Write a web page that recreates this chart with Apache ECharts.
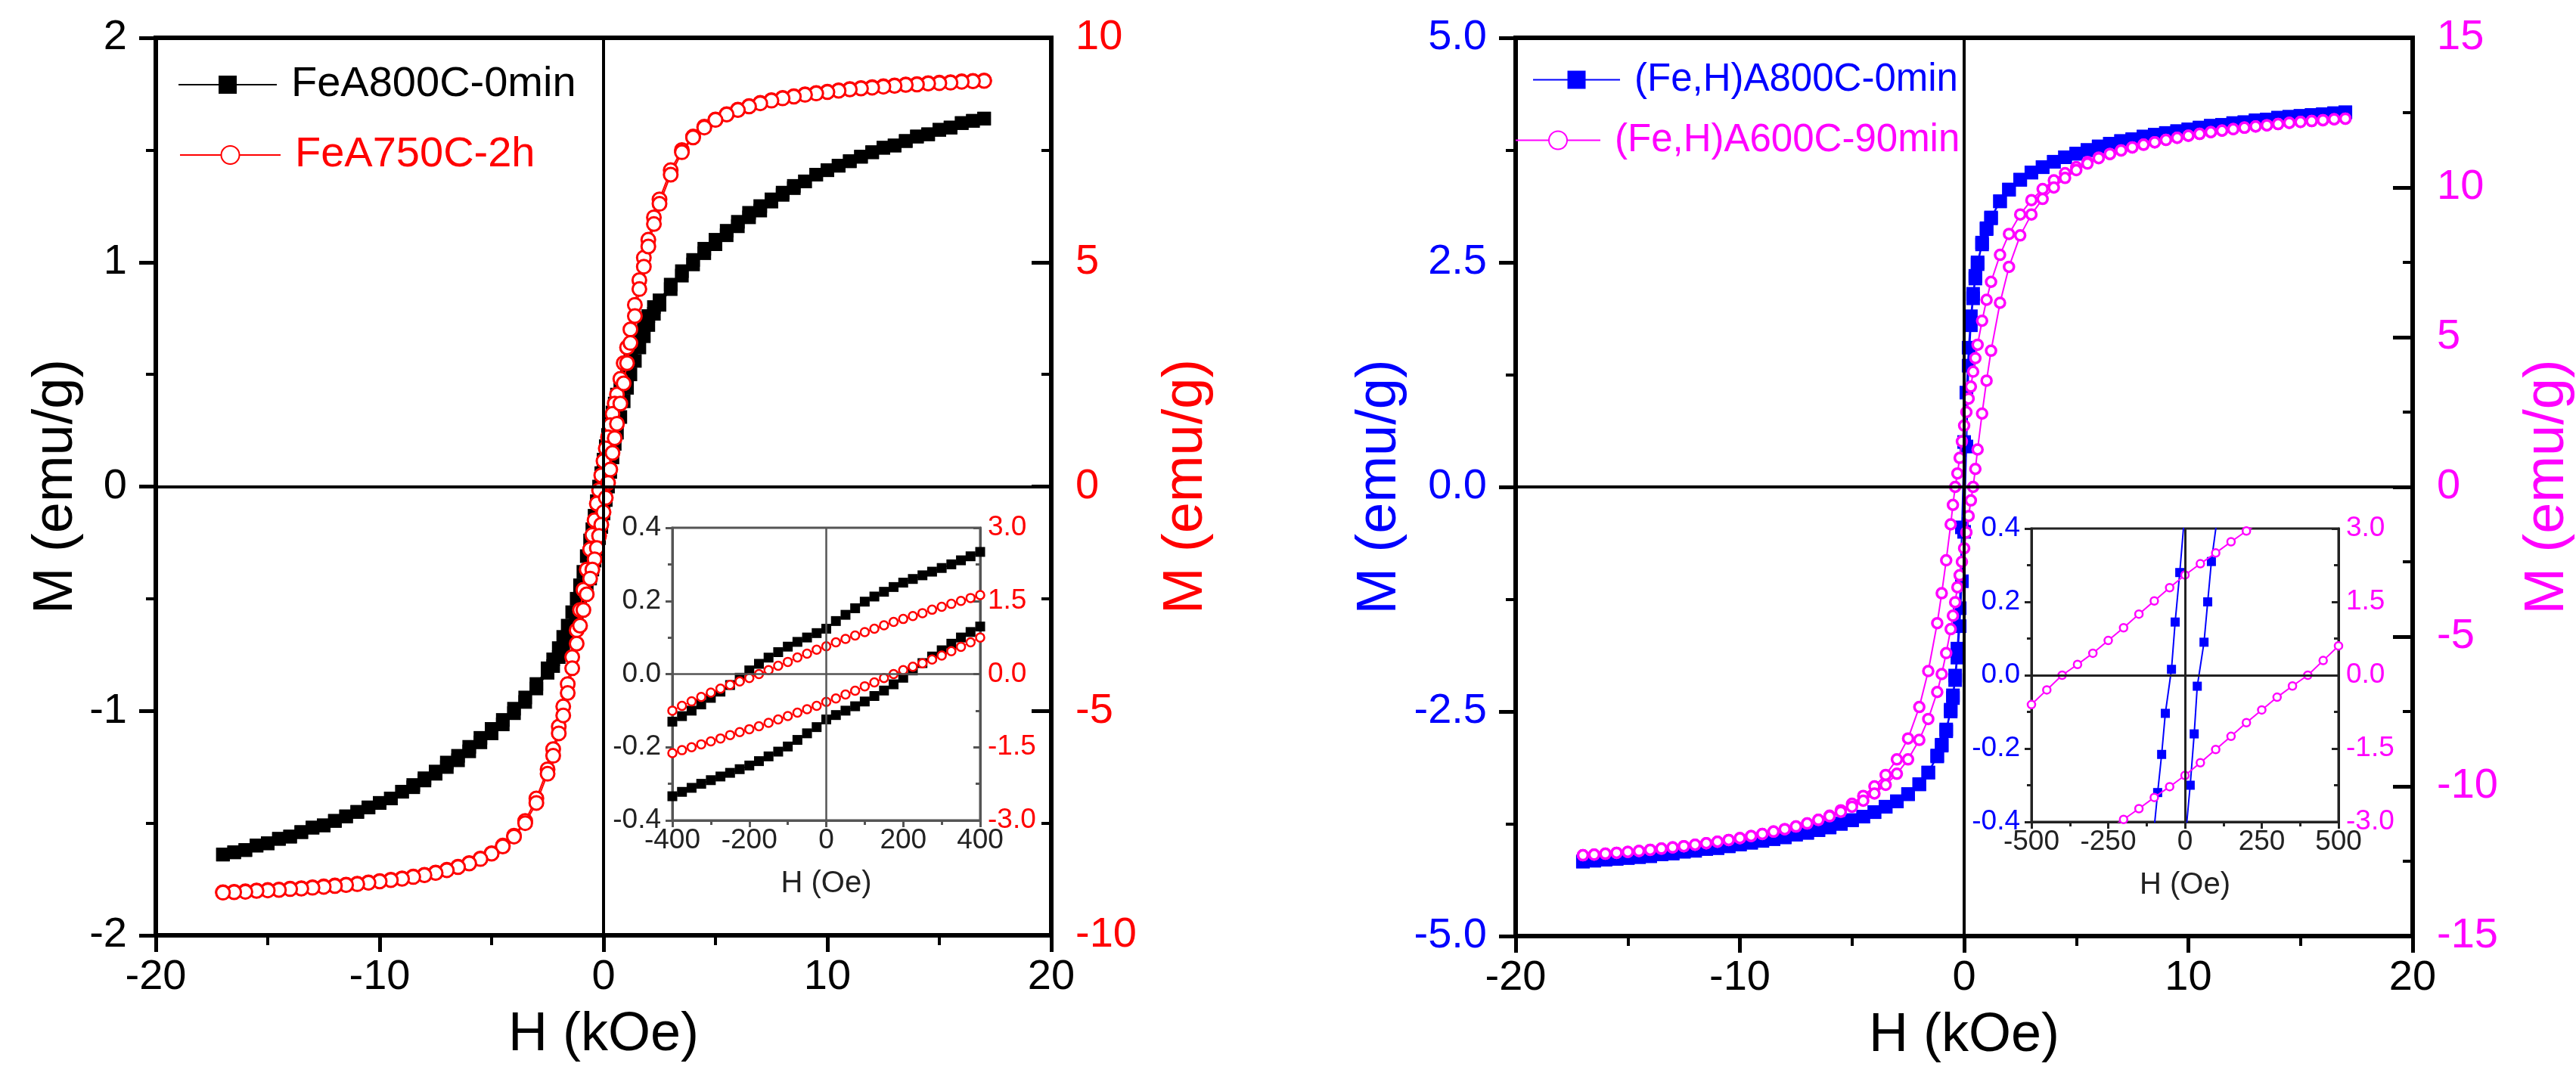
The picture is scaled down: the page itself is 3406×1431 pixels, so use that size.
<!DOCTYPE html>
<html><head><meta charset="utf-8">
<script src="https://cdn.jsdelivr.net/npm/echarts@6/dist/echarts.min.js"></script>
<style>html,body{margin:0;padding:0;background:#fff}#c{width:3406px;height:1431px}</style>
</head><body><div id="c"></div>
<script>
// ---------------- LEFT PANEL: main loop (H in kOe) ----------------
const LH = [17,16.5,16,15.5,15,14.5,14,13.5,13,12.5,12,11.5,11,10.5,10,9.5,9,8.5,8,7.5,7,6.5,6,5.5,5,4.5,4,3.5,3,
  2.5,2.25,2,1.8,1.6,1.4,1.2,1.05,0.9,0.75,0.6,0.5,0.4,0.3,0.2,0.1,0,-0.1,-0.2,-0.3,-0.4,-0.5,-0.6,-0.75,-0.9,-1.05,-1.2,-1.4,-1.6,-1.8,-2,-2.25,-2.5,
  -3,-3.5,-4,-4.5,-5,-5.5,-6,-6.5,-7,-7.5,-8,-8.5,-9,-9.5,-10,-10.5,-11,-11.5,-12,-12.5,-13,-13.5,-14,-14.5,-15,-15.5,-16,-16.5,-17];
// FeA800C-0min (left axis, emu/g) descending / ascending branch
const fe800Down = [1.64,1.63,1.62,1.60,1.59,1.57,1.56,1.54,1.52,1.51,1.49,1.47,1.45,1.43,1.41,1.39,1.36,1.34,1.31,1.28,1.25,1.22,1.18,1.14,1.10,1.06,1.01,0.96,0.90,
  0.83,0.80,0.76,0.72,0.68,0.63,0.58,0.53,0.48,0.445,0.41,0.37,0.33,0.28,0.23,0.18,0.12,0.06,0.00,-0.065,-0.13,-0.19,-0.24,-0.31,-0.38,-0.44,-0.50,-0.56,-0.62,-0.67,-0.72,-0.77,-0.81,
  -0.88,-0.94,-0.99,-1.04,-1.08,-1.12,-1.16,-1.20,-1.23,-1.27,-1.30,-1.33,-1.36,-1.39,-1.41,-1.43,-1.45,-1.47,-1.49,-1.51,-1.52,-1.54,-1.56,-1.57,-1.59,-1.60,-1.62,-1.63,-1.64];
const fe800Up = [1.64,1.63,1.62,1.60,1.59,1.57,1.56,1.54,1.52,1.51,1.49,1.47,1.45,1.43,1.41,1.39,1.36,1.33,1.30,1.27,1.23,1.20,1.16,1.12,1.08,1.04,0.99,0.94,0.88,
  0.81,0.77,0.72,0.67,0.62,0.56,0.50,0.44,0.38,0.31,0.24,0.19,0.13,0.065,0.00,-0.06,-0.12,-0.18,-0.23,-0.28,-0.33,-0.37,-0.41,-0.445,-0.48,-0.53,-0.58,-0.63,-0.68,-0.72,-0.76,-0.80,-0.83,
  -0.90,-0.96,-1.01,-1.06,-1.10,-1.14,-1.18,-1.22,-1.25,-1.28,-1.31,-1.34,-1.36,-1.39,-1.41,-1.43,-1.45,-1.47,-1.49,-1.51,-1.52,-1.54,-1.56,-1.57,-1.59,-1.60,-1.62,-1.63,-1.64];
// FeA750C-2h (right axis, emu/g)
const fe750Down = [9.05,9.04,9.03,9.01,9.00,8.99,8.97,8.96,8.94,8.92,8.90,8.88,8.86,8.83,8.80,8.77,8.74,8.70,8.66,8.61,8.55,8.48,8.40,8.30,8.18,8.02,7.80,7.50,7.05,
  6.40,6.00,5.50,5.10,4.60,4.05,3.50,3.10,2.75,2.40,2.05,1.85,1.62,1.37,1.10,0.85,0.57,0.25,-0.08,-0.38,-0.75,-1.08,-1.40,-1.85,-2.30,-2.75,-3.20,-3.80,-4.40,-4.90,-5.35,-5.85,-6.30,
  -6.95,-7.45,-7.78,-8.00,-8.17,-8.29,-8.39,-8.47,-8.54,-8.60,-8.65,-8.69,-8.73,-8.76,-8.79,-8.82,-8.85,-8.87,-8.89,-8.91,-8.93,-8.95,-8.96,-8.98,-8.99,-9.00,-9.02,-9.03,-9.04];
const fe750Up = [9.04,9.03,9.02,9.00,8.99,8.98,8.96,8.95,8.93,8.91,8.89,8.87,8.85,8.82,8.79,8.76,8.73,8.69,8.65,8.60,8.54,8.47,8.39,8.29,8.17,8.00,7.78,7.45,6.95,
  6.30,5.85,5.35,4.90,4.40,3.80,3.20,2.75,2.30,1.85,1.40,1.08,0.75,0.38,0.08,-0.25,-0.57,-0.85,-1.10,-1.37,-1.62,-1.85,-2.05,-2.40,-2.75,-3.10,-3.50,-4.05,-4.60,-5.10,-5.50,-6.00,-6.40,
  -7.05,-7.50,-7.80,-8.02,-8.18,-8.30,-8.40,-8.48,-8.55,-8.61,-8.66,-8.70,-8.74,-8.77,-8.80,-8.83,-8.86,-8.88,-8.90,-8.92,-8.94,-8.96,-8.97,-8.99,-9.00,-9.01,-9.03,-9.04,-9.05];

// ---------------- LEFT PANEL: inset (H in Oe) ----------------
const LIH = [-400,-375,-350,-325,-300,-275,-250,-225,-200,-175,-150,-125,-100,-75,-50,-25,0,25,50,75,100,125,150,175,200,225,250,275,300,325,350,375,400];
const fe800InUpper = [-0.130,-0.115,-0.100,-0.083,-0.065,-0.048,-0.030,-0.010,0.010,0.028,0.045,0.060,0.075,0.088,0.100,0.112,0.124,0.145,0.162,0.180,0.198,0.212,0.225,0.238,0.250,0.260,0.270,0.280,0.290,0.300,0.311,0.322,0.334];
const fe800InLower = [-0.334,-0.322,-0.311,-0.300,-0.290,-0.280,-0.270,-0.260,-0.250,-0.238,-0.225,-0.212,-0.198,-0.180,-0.162,-0.145,-0.124,-0.112,-0.100,-0.088,-0.075,-0.060,-0.045,-0.028,-0.010,0.010,0.030,0.048,0.065,0.083,0.100,0.115,0.130];
const fe750InUpper = [-0.75,-0.65,-0.56,-0.47,-0.38,-0.30,-0.22,-0.15,-0.08,0.00,0.08,0.17,0.25,0.34,0.42,0.50,0.57,0.65,0.72,0.79,0.86,0.93,1.00,1.07,1.13,1.19,1.25,1.32,1.38,1.44,1.50,1.56,1.62];
const fe750InLower = [-1.62,-1.56,-1.50,-1.44,-1.38,-1.32,-1.25,-1.19,-1.13,-1.07,-1.00,-0.93,-0.86,-0.79,-0.72,-0.65,-0.57,-0.50,-0.42,-0.34,-0.25,-0.17,-0.08,0.00,0.08,0.15,0.22,0.30,0.38,0.47,0.56,0.65,0.75];

// ---------------- RIGHT PANEL: main loop (H in kOe) ----------------
const RH = [17,16.5,16,15.5,15,14.5,14,13.5,13,12.5,12,11.5,11,10.5,10,9.5,9,8.5,8,7.5,7,6.5,6,5.5,5,4.5,4,3.5,3,
  2.5,2,1.6,1.2,1.0,0.8,0.6,0.5,0.4,0.3,0.2,0.1,0,-0.1,-0.2,-0.3,-0.4,-0.5,-0.6,-0.8,-1.0,-1.2,-1.6,-2,-2.5,
  -3,-3.5,-4,-4.5,-5,-5.5,-6,-6.5,-7,-7.5,-8,-8.5,-9,-9.5,-10,-10.5,-11,-11.5,-12,-12.5,-13,-13.5,-14,-14.5,-15,-15.5,-16,-16.5,-17];
const feh800Down = [4.17,4.16,4.15,4.14,4.13,4.12,4.11,4.09,4.08,4.06,4.05,4.03,4.02,4.00,3.98,3.96,3.94,3.92,3.90,3.87,3.85,3.82,3.79,3.75,3.71,3.67,3.62,3.56,3.50,
  3.42,3.31,3.18,3.00,2.88,2.72,2.50,2.35,2.15,1.90,1.55,1.05,0.50,-0.45,-1.35,-1.80,-2.10,-2.32,-2.48,-2.70,-2.87,-2.99,-3.18,-3.31,-3.42,
  -3.50,-3.56,-3.62,-3.67,-3.71,-3.75,-3.79,-3.82,-3.85,-3.87,-3.90,-3.92,-3.94,-3.96,-3.98,-4.00,-4.02,-4.03,-4.05,-4.06,-4.08,-4.09,-4.11,-4.12,-4.13,-4.14,-4.15,-4.16,-4.17];
const feh800Up = [4.17,4.16,4.15,4.14,4.13,4.12,4.11,4.09,4.08,4.06,4.05,4.03,4.02,4.00,3.98,3.96,3.94,3.92,3.90,3.87,3.85,3.82,3.79,3.75,3.71,3.67,3.62,3.56,3.50,
  3.42,3.31,3.18,2.99,2.87,2.70,2.48,2.32,2.10,1.80,1.35,0.45,-0.50,-1.05,-1.55,-1.90,-2.15,-2.35,-2.50,-2.72,-2.88,-3.00,-3.18,-3.31,-3.42,
  -3.50,-3.56,-3.62,-3.67,-3.71,-3.75,-3.79,-3.82,-3.85,-3.87,-3.90,-3.92,-3.94,-3.96,-3.98,-4.00,-4.02,-4.03,-4.05,-4.06,-4.08,-4.09,-4.11,-4.12,-4.13,-4.14,-4.15,-4.16,-4.17];
const feh600Down = [12.30,12.28,12.25,12.22,12.19,12.16,12.12,12.08,12.04,12.00,11.95,11.90,11.85,11.79,11.73,11.66,11.59,11.51,11.43,11.34,11.24,11.12,11.00,10.85,10.68,10.48,10.24,9.95,9.58,
  9.10,8.45,7.75,6.85,6.25,5.55,4.75,4.30,3.85,3.35,2.95,2.50,2.05,1.52,0.97,0.45,0.00,-0.60,-1.25,-2.45,-3.55,-4.55,-6.15,-7.35,-8.40,
  -9.10,-9.62,-10.00,-10.32,-10.58,-10.80,-10.98,-11.12,-11.24,-11.34,-11.43,-11.51,-11.59,-11.66,-11.73,-11.79,-11.85,-11.90,-11.95,-12.00,-12.04,-12.08,-12.12,-12.16,-12.19,-12.22,-12.25,-12.28,-12.30];
const feh600Up = [12.30,12.28,12.25,12.22,12.19,12.16,12.12,12.08,12.04,12.00,11.95,11.90,11.85,11.79,11.73,11.66,11.59,11.51,11.43,11.34,11.24,11.12,10.98,10.80,10.58,10.32,10.00,9.62,9.10,
  8.40,7.35,6.15,4.55,3.55,2.45,1.25,0.60,0.00,-0.45,-0.97,-1.52,-2.05,-2.50,-2.95,-3.35,-3.85,-4.30,-4.75,-5.55,-6.25,-6.85,-7.75,-8.45,-9.10,
  -9.58,-9.95,-10.24,-10.48,-10.68,-10.85,-11.00,-11.12,-11.24,-11.34,-11.43,-11.51,-11.59,-11.66,-11.73,-11.79,-11.85,-11.90,-11.95,-12.00,-12.04,-12.08,-12.12,-12.16,-12.19,-12.22,-12.25,-12.28,-12.30];

// ---------------- RIGHT PANEL: inset (H in Oe) ----------------
const fehInBlueDownH = [5,-17,-32,-44,-64,-76,-89,-110];
const fehInBlueDown  = [0.50,0.28,0.145,0.016,-0.104,-0.216,-0.32,-0.50];
const fehInBlueUpH   = [-5,17,30,40,62,74,86,110];
const fehInBlueUp    = [-0.50,-0.30,-0.16,-0.03,0.09,0.20,0.31,0.46];
const fehInMagUpperH = [-500,-450,-400,-350,-300,-250,-200,-150,-100,-50,0,50,100,150,200,250];
const fehInMagUpper  = [-0.60,-0.30,0.00,0.22,0.45,0.71,0.97,1.25,1.52,1.79,2.05,2.28,2.50,2.73,2.95,3.15];
const fehInMagLowerH = [-250,-200,-150,-100,-50,0,50,100,150,200,250,300,350,400,450,500];
const fehInMagLower  = [-3.15,-2.95,-2.73,-2.50,-2.28,-2.05,-1.79,-1.52,-1.25,-0.97,-0.71,-0.45,-0.22,0.00,0.30,0.60];

// ---------------- names / labels ----------------
const NAME_A = 'FeA800C-0min', NAME_B = 'FeA750C-2h';
const NAME_C = '(Fe,H)A800C-0min', NAME_D = '(Fe,H)A600C-90min';
const X_MAIN = 'H (kOe)', X_INSET = 'H (Oe)', Y_NAME = 'M (emu/g)';

const FF = '"Liberation Sans", Arial, Helvetica, sans-serif';
const RED = '#ff0000', BLUE = '#0000ff', MAG = '#ff00ff';

function pairs(h, v) { return h.map((x, i) => [x, v[i]]); }
function fix1(v) { return (Math.abs(v) < 1e-9 ? 0 : v).toFixed(1); }

function mainX(g) {
  return { gridIndex: g, type: 'value', min: -20, max: 20, interval: 10, position: 'bottom',
    axisLine: { onZero: false, lineStyle: { color: '#000', width: 6 } },
    axisTick: { length: 22, lineStyle: { color: '#000', width: 5 } },
    minorTick: { show: true, splitNumber: 2, length: 13, lineStyle: { color: '#000', width: 4 } },
    splitLine: { show: false },
    axisLabel: { color: '#000', fontSize: 56, margin: 28, fontFamily: FF },
    name: X_MAIN, nameLocation: 'middle', nameGap: 96,
    nameTextStyle: { color: '#000', fontSize: 72, fontFamily: FF } };
}
function insetX(g, lim, step, col) {
  return { gridIndex: g, type: 'value', min: -lim, max: lim, interval: step, position: 'bottom',
    axisLine: { onZero: false, lineStyle: { color: col, width: 3 } },
    axisTick: { length: 9, lineStyle: { color: col, width: 3 } },
    minorTick: { show: true, splitNumber: 2, length: 6, lineStyle: { color: col, width: 3 } },
    splitLine: { show: false },
    axisLabel: { color: '#222', fontSize: 37, margin: 8, fontFamily: FF },
    name: X_INSET, nameLocation: 'middle', nameGap: 64,
    nameTextStyle: { color: '#222', fontSize: 40, fontFamily: FF } };
}
function mainY(g, pos, min, max, step, col, gap, fmt) {
  const right = pos === 'right';
  return { gridIndex: g, type: 'value', position: pos, min, max, interval: step,
    axisLine: { onZero: false, lineStyle: { color: '#000', width: 6 } },
    axisTick: { inside: right, length: right ? 26 : 22, lineStyle: { color: '#000', width: 5 } },
    minorTick: { show: true, splitNumber: 2, length: 13, lineStyle: { color: '#000', width: 4 } },
    splitLine: { show: false },
    axisLabel: { color: col, fontSize: 56, margin: right ? 32 : 38, fontFamily: FF, formatter: fmt },
    name: Y_NAME, nameLocation: 'middle', nameGap: gap,
    nameTextStyle: { color: col, fontSize: 74, fontFamily: FF } };
}
function insetY(g, pos, lim, step, col, labCol) {
  const right = pos === 'right';
  return { gridIndex: g, type: 'value', position: pos, min: -lim, max: lim, interval: step,
    axisLine: { onZero: false, lineStyle: { color: col, width: 3 } },
    axisTick: { inside: right, length: 9, lineStyle: { color: col, width: 3 } },
    minorTick: { show: true, splitNumber: 2, length: 6, lineStyle: { color: col, width: 3 } },
    splitLine: { show: false },
    axisLabel: { color: labCol, fontSize: 37, margin: right ? 10 : 15, fontFamily: FF, formatter: fix1 } };
}
function zeroLines(col, w) {
  return { silent: true, symbol: 'none', label: { show: false }, animation: false,
    lineStyle: { color: col, width: w, type: 'solid' }, emphasis: { disabled: true },
    data: [{ xAxis: 0 }, { yAxis: 0 }] };
}
function sq(name, xi, yi, data, col, size, lw) {
  return { type: 'line', name, xAxisIndex: xi, yAxisIndex: yi, data, symbol: 'rect', symbolSize: size,
    itemStyle: { color: col }, lineStyle: { color: col, width: lw }, showAllSymbol: true, animation: false, z: 3 };
}
function circ(name, xi, yi, data, col, size, bw, lw) {
  return { type: 'line', name, xAxisIndex: xi, yAxisIndex: yi, data, symbol: 'circle', symbolSize: size,
    itemStyle: { color: '#fff', borderColor: col, borderWidth: bw }, lineStyle: { color: col, width: lw },
    showAllSymbol: true, animation: false, z: 4 };
}
function leg(name, left, top, col, fs, w) {
  return { data: [name], left, top, padding: 0, itemWidth: w, itemHeight: 30, selectedMode: false,
    textStyle: { color: col, fontSize: fs, fontFamily: FF, padding: [0, 0, 0, 14] } };
}

const s0 = sq(NAME_A, 0, 0, pairs(LH, fe800Down), '#000', 18, 2);
s0.markLine = zeroLines('#000', 4);
const s8 = sq(NAME_C, 2, 4, pairs(RH, feh800Down), BLUE, 18, 2);
s8.markLine = zeroLines('#000', 4);
const s4 = sq(NAME_A, 1, 2, pairs(LIH, fe800InUpper), '#000', 13, 1.5);
s4.markLine = zeroLines('#555', 2.5);
const s12 = sq(NAME_C, 3, 6, pairs(fehInBlueDownH, fehInBlueDown), BLUE, 12, 2);
s12.markLine = zeroLines('#222', 3);

const option = {
  backgroundColor: '#fff',
  animation: false,
  textStyle: { fontFamily: FF },
  grid: [
    { left: 206, top: 50, width: 1184, height: 1187, show: true, borderColor: '#000', borderWidth: 6, outerBoundsMode: 'none' },
    { left: 889, top: 698, width: 407, height: 387, show: true, backgroundColor: '#fff', borderColor: '#555', borderWidth: 3, outerBoundsMode: 'none' },
    { left: 2004, top: 50, width: 1186, height: 1188, show: true, borderColor: '#000', borderWidth: 6, outerBoundsMode: 'none' },
    { left: 2686, top: 699, width: 406, height: 388, show: true, backgroundColor: '#fff', borderColor: '#222', borderWidth: 3, outerBoundsMode: 'none' }
  ],
  xAxis: [ mainX(0), insetX(1, 400, 200, '#555'), mainX(2), insetX(3, 500, 250, '#222') ],
  yAxis: [
    mainY(0, 'left', -2, 2, 1, '#000', 94),
    mainY(0, 'right', -10, 10, 5, RED, 142),
    insetY(1, 'left', 0.4, 0.2, '#555', '#222'),
    insetY(1, 'right', 3, 1.5, '#555', RED),
    mainY(2, 'left', -5, 5, 2.5, BLUE, 142, fix1),
    mainY(2, 'right', -15, 15, 5, MAG, 142),
    insetY(3, 'left', 0.4, 0.2, '#222', BLUE),
    insetY(3, 'right', 3, 1.5, '#222', MAG)
  ],
  legend: [
    leg(NAME_A, 235, 84, '#000', 56, 130),
    leg(NAME_B, 237, 177, RED, 56, 133),
    leg(NAME_C, 2026, 80, BLUE, 51, 115),
    leg(NAME_D, 2003, 160, MAG, 51, 112)
  ],
  series: [
    s0,
    sq(NAME_A, 0, 0, pairs(LH, fe800Up), '#000', 18, 2),
    circ(NAME_B, 0, 1, pairs(LH, fe750Down), RED, 18, 3, 2),
    circ(NAME_B, 0, 1, pairs(LH, fe750Up), RED, 18, 3, 2),
    s4,
    sq(NAME_A, 1, 2, pairs(LIH, fe800InLower), '#000', 13, 1.5),
    circ(NAME_B, 1, 3, pairs(LIH, fe750InUpper), RED, 11, 2.5, 1.5),
    circ(NAME_B, 1, 3, pairs(LIH, fe750InLower), RED, 11, 2.5, 1.5),
    s8,
    sq(NAME_C, 2, 4, pairs(RH, feh800Up), BLUE, 18, 2),
    circ(NAME_D, 2, 5, pairs(RH, feh600Down), MAG, 13, 3.5, 2),
    circ(NAME_D, 2, 5, pairs(RH, feh600Up), MAG, 13, 3.5, 2),
    s12,
    sq(NAME_C, 3, 6, pairs(fehInBlueUpH, fehInBlueUp), BLUE, 12, 2),
    circ(NAME_D, 3, 7, pairs(fehInMagUpperH, fehInMagUpper), MAG, 10, 2.5, 2),
    circ(NAME_D, 3, 7, pairs(fehInMagLowerH, fehInMagLower), MAG, 10, 2.5, 2)
  ]
};
const chart = echarts.init(document.getElementById('c'));
chart.setOption(option);
</script>
</body></html>
